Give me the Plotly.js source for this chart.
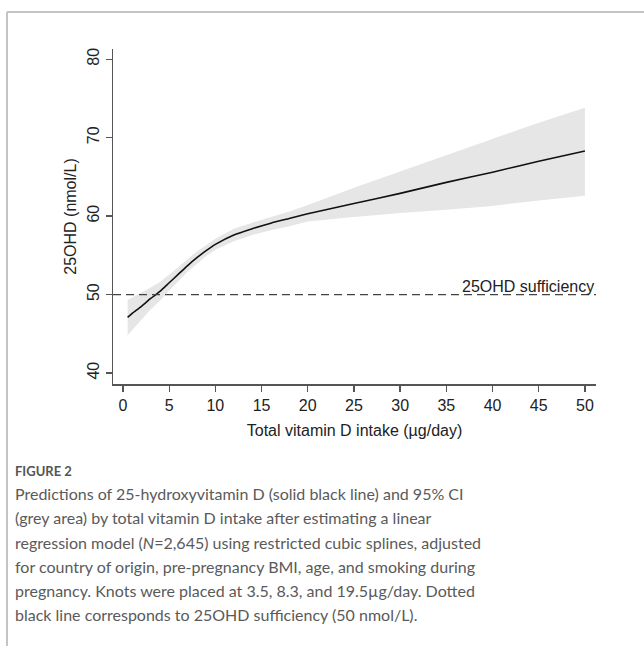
<!DOCTYPE html>
<html>
<head>
<meta charset="utf-8">
<script src="https://cdn.plot.ly/plotly-3.0.1.min.js"></script>
<style>
html,body{margin:0;padding:0;background:#fff;}
#chart{width:644px;height:646px;}
</style>
</head>
<body>
<div id="chart"></div>
<script>
// ---- data ----
const intake = [0.5, 1, 2, 3, 4, 5, 6, 7, 8, 9, 10, 12, 14, 16, 18, 20, 25, 30, 35, 40, 45, 50];
const pred25OHD = [47.1, 47.6, 48.5, 49.5, 50.4, 51.5, 52.6, 53.7, 54.7, 55.6, 56.4, 57.6, 58.4, 59.1, 59.7, 60.3, 61.6, 62.9, 64.3, 65.6, 67.0, 68.3];
const ciUpper = [49.3, 49.6, 50.2, 50.9, 51.6, 52.5, 53.5, 54.5, 55.5, 56.3, 57.1, 58.4, 59.2, 59.9, 60.6, 61.4, 63.6, 65.7, 67.8, 69.9, 71.9, 73.8];
const ciLower = [44.8, 45.5, 46.8, 48.1, 49.2, 50.5, 51.7, 52.9, 53.9, 54.9, 55.7, 56.8, 57.6, 58.2, 58.7, 59.3, 59.9, 60.4, 60.8, 61.3, 62.0, 62.6];
const sufficiency = 50;
const sufficiencyLabel = "25OHD sufficiency";
const xTicks = [0, 5, 10, 15, 20, 25, 30, 35, 40, 45, 50];
const yTicks = [40, 50, 60, 70, 80];
const xTitle = "Total vitamin D intake (µg/day)";
const yTitle = "25OHD (nmol/L)";
const figureLabel = "FIGURE 2";
const captionLines = [
  "Predictions of 25-hydroxyvitamin D (solid black line) and 95% CI",
  "(grey area) by total vitamin D intake after estimating a linear",
  "regression model (<i>N</i>=2,645) using restricted cubic splines, adjusted",
  "for country of origin, pre-pregnancy BMI, age, and smoking during",
  "pregnancy. Knots were placed at 3.5, 8.3, and 19.5µg/day. Dotted",
  "black line corresponds to 25OHD sufficiency (50 nmol/L)."
];

// ---- layout geometry ----
const W = 644, H = 646;
const M = {l: 113, r: 48, t: 49, b: 262};
const pw = W - M.l - M.r, ph = H - M.t - M.b;
const px = x => (x - M.l) / pw;
const py = y => (H - M.b - y) / ph;

const traces = [
  {x: intake, y: ciLower, mode: 'lines', line: {width: 0, color: 'rgba(0,0,0,0)'}, hoverinfo: 'skip', showlegend: false},
  {x: intake, y: ciUpper, mode: 'lines', fill: 'tonexty', fillcolor: '#e6e6e6', line: {width: 0, color: 'rgba(0,0,0,0)'}, hoverinfo: 'skip', showlegend: false},
  {x: intake, y: pred25OHD, mode: 'lines', line: {color: '#111', width: 1.6, shape: 'spline', smoothing: 0.6}, showlegend: false}
];

const axFont = {family: 'Liberation Sans, Arial, sans-serif', size: 16, color: '#222'};
const capFont = {family: 'Lato, Open Sans, sans-serif', size: 16, color: '#5a5a5a'};

const annotations = [
  {xref: 'paper', yref: 'y', x: 1, y: sufficiency, xanchor: 'right', yanchor: 'middle', yshift: 8, text: sufficiencyLabel, showarrow: false, font: axFont},
  {xref: 'paper', yref: 'paper', x: px(13), y: py(471), xanchor: 'left', yanchor: 'middle', text: '<b>' + figureLabel + '</b>', showarrow: false, font: {family: 'Lato, Open Sans, sans-serif', size: 13, color: '#555'}}
];
const lineY = [493, 517, 542, 566, 590, 614];
captionLines.forEach((t, i) => {
  annotations.push({xref: 'paper', yref: 'paper', x: px(13), y: py(lineY[i]), xanchor: 'left', yanchor: 'middle', text: t, showarrow: false, font: capFont});
});

const shapes = [
  {type: 'line', xref: 'paper', yref: 'y', x0: 0, x1: 1, y0: sufficiency, y1: sufficiency, line: {color: '#444', width: 1.3, dash: '8px,5px'}},
  {type: 'line', xref: 'paper', yref: 'paper', x0: px(7), x1: px(W), y0: py(12), y1: py(12), line: {color: '#c4c4c4', width: 2}},
  {type: 'line', xref: 'paper', yref: 'paper', x0: px(7), x1: px(7), y0: py(12), y1: py(H), line: {color: '#c4c4c4', width: 2}}
];

const layout = {
  width: W, height: H,
  margin: M,
  paper_bgcolor: '#fff', plot_bgcolor: '#fff',
  showlegend: false,
  xaxis: {
    range: [-1.08, 51.2], tickvals: xTicks, ticks: 'outside', ticklen: 6, tickcolor: '#555', tickwidth: 1.3,
    showline: true, linecolor: '#555', linewidth: 1.5, showgrid: false, zeroline: false,
    tickfont: axFont, title: {text: xTitle, font: axFont, standoff: 12}
  },
  yaxis: {
    range: [38.6, 81.3], tickvals: yTicks, ticks: 'outside', ticklen: 6, tickcolor: '#555', tickwidth: 1.3,
    showline: true, linecolor: '#555', linewidth: 1.5, showgrid: false, zeroline: false, tickangle: -90,
    tickfont: axFont, title: {text: yTitle, font: axFont, standoff: 4}
  },
  annotations: annotations,
  shapes: shapes
};

Plotly.newPlot('chart', traces, layout, {displayModeBar: false, staticPlot: true});
</script>
</body>
</html>
